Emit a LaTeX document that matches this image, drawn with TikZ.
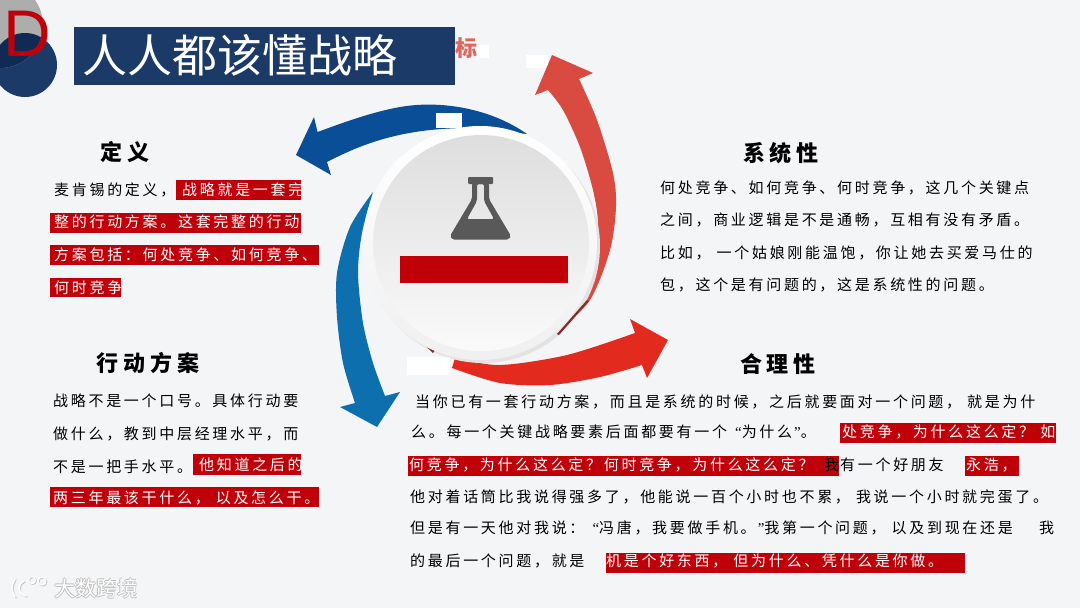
\documentclass[tikz,border=0pt]{standalone}
\usepackage{fontspec}
\setmainfont{Noto Sans CJK SC}
\newfontfamily\bodyfont[LetterSpace=18]{Noto Sans CJK SC}
\newfontfamily\headfont[LetterSpace=22]{Noto Sans CJK SC}
\newfontfamily\dfont{Liberation Sans}
\newfontfamily\quotefont{Liberation Serif}
\newcommand{\openq}{\hspace{8pt}{\quotefont “}}
\newcommand{\closeq}{\hspace{2pt}{\quotefont ”}}
\definecolor{pagebg}{HTML}{F4F5F7}
\definecolor{navy}{HTML}{1B3A68}
\definecolor{navydark}{HTML}{0F2A55}
\definecolor{boxred}{HTML}{C00008}
\definecolor{arrowblue}{HTML}{0A4E98}
\definecolor{arrowsky}{HTML}{0E6FAE}
\definecolor{arrowrose}{HTML}{D94A40}
\definecolor{arrowred}{HTML}{E22B1E}
\definecolor{flaskgrey}{HTML}{595959}
\tikzstyle{body} = [anchor=west, inner sep=0pt, font=\fontsize{15}{15}\bodyfont]
\tikzstyle{hot} = [body, text=white]
\tikzstyle{head} = [inner sep=0pt, font=\fontsize{22}{22}\headfont\bfseries]
\tikzstyle{redmark} = [fill=boxred]
\tikzstyle{patch} = [fill=white]
\tikzstyle{brandtxt} = [inner sep=0pt, font=\fontsize{21}{21}\selectfont]

\begin{document}
\begin{tikzpicture}[x=1pt,y=-1pt]
  \useasboundingbox (0,0) rectangle (1080,608);
  \fill [pagebg] (0,0) rectangle (1080,608);

  % badge
  \fill [navy] (25,65) circle (32);
  \fill [black!32] (0,25) circle (43);
  \begin{scope}
    \clip (25,65) circle (32);
    \fill [navydark] (0,25) circle (43);
  \end{scope}
  \node (badge) at (27.5,33.5) [inner sep=0pt, text=boxred, font=\fontsize{66}{66}\dfont] {D};

  % title
  \node (stub) at (466,48) [inner sep=0pt, text=arrowrose!85, font=\fontsize{22}{22}\selectfont\bfseries] {标};
  \fill [patch] (477,45) rectangle (489,58);
  \fill [patch] (526,55) rectangle (548,68);
  \fill [navy] (74,27) rectangle (455,85);
  \node (title) at (240,55) [inner sep=0pt, text=white, font=\fontsize{45}{45}\selectfont] {人人都该懂战略};

  % arrows
  \fill [arrowblue] (527,134) .. controls (490,108) and (440,100) .. (400,107)
    .. controls (372,112) and (345,122) .. (317.5,132) -- (314,117) -- (296,155)
    -- (331,175) -- (327,162) .. controls (360,145) and (400,128) .. (470,128) -- cycle;
  \fill [patch] (436,113) rectangle (462,128);
  \fill [arrowrose] plot [smooth] coordinates {(555,335) (590,300) (610,250) (616,207) (613,173) (597,120) (579,79)}
    -- (593,73) -- (552,55) -- (535,95) -- (548,90)
    -- plot [smooth] coordinates {(548,90) (563,110) (580,147) (593,190) (598,223) (595,263) (580,307) (555,335)} -- cycle;
  \fill [arrowred] plot [smooth] coordinates {(452,368) (500,383) (550,385) (600,377) (642,365)}
    -- (647,378) -- (668,340) -- (630,319) -- (635,333)
    -- plot [smooth] coordinates {(635,333) (567,355) (500,365) (455,358)} -- cycle;
  \fill [arrowsky] plot [smooth] coordinates {(373,192) (350,227) (337,273) (337,317) (343,363) (355,403)}
    -- (340,407) -- (377,427) -- (400,392) -- (385,396)
    -- plot [smooth] coordinates {(385,396) (373,363) (363,323) (358,273) (362,233) (373,192)} -- cycle;

  % center disc
  \fill [black!11] (483,246) circle (117);
  \fill [arrowrose!60!black] (557,334) -- (587,300) -- (589,301) -- (559,335) -- cycle;
  \fill [arrowrose!60!black] (415,336) -- (433,353) -- (438,346) -- cycle;
  \shade [top color=white, bottom color=black!6] (480,243) circle (117);
  \shade [top color=black!13, bottom color=black!2] (481,243) circle (108);
  \fill [patch] (407,357) rectangle (450,375);

  % flask
  \fill [flaskgrey, rounded corners=1pt] (468,177) rectangle (493,184);
  \fill [flaskgrey, even odd rule, rounded corners=2pt]
    (472,183) -- (489,183) -- (489,199) -- (511,236) -- (509,239.5) -- (452,239.5) -- (450,236) -- (472,199) -- cycle
    (477,184) -- (477,201) -- (467,219) -- (494,219) -- (484,201) -- (484,184) -- cycle;
  \fill [boxred] (400,256) rectangle (568,283);

  % marks
  \fill [redmark] (176,180) rectangle (301,200);
  \fill [redmark] (50,213) rectangle (301,233);
  \fill [redmark] (50,245) rectangle (319,265);
  \fill [redmark] (50,278) rectangle (121,297);
  \fill [redmark] (193,454) rectangle (301,475);
  \fill [redmark] (50,487) rectangle (319,507);
  \fill [redmark] (840,423) rectangle (1056,443);
  \fill [redmark] (408,456) rectangle (839,476);
  \fill [redmark] (965,456) rectangle (1019,476);
  \fill [redmark] (606,553) rectangle (965,573);

  % left top
  \node (defhead) at (125,152) [head] {定义};
  \node (def1) at (54,190) [body] {麦肯锡的定义，};
  \node (def1b) at (182,190) [hot] {战略就是一套完};
  \node (def2) at (54,222) [hot] {整的行动方案。这套完整的行动};
  \node (def3) at (54,255) [hot] {方案包括：何处竞争、如何竞争、};
  \node (def4) at (54,288) [hot] {何时竞争};

  % left bottom
  \node (acthead) at (148,363) [head] {行动方案};
  \node (act1) at (53,401) [body] {战略不是一个口号。具体行动要};
  \node (act2) at (53,434) [body] {做什么，教到中层经理水平，而};
  \node (act3) at (53,467) [body] {不是一把手水平。};
  \node (act3b) at (199,465) [hot] {他知道之后的};
  \node (act4) at (53,498) [hot] {两三年最该干什么， 以及怎么干。};

  % right top
  \node (syshead) at (781,153) [head] {系统性};
  \node (sys1) at (660,188) [body] {何处竞争、如何竞争、何时竞争，这几个关键点};
  \node (sys2) at (660,220) [body] {之间，商业逻辑是不是通畅，互相有没有矛盾。};
  \node (sys3) at (660,253) [body] {比如， 一个姑娘刚能温饱，你让她去买爱马仕的};
  \node (sys4) at (660,285) [body] {包，这个是有问题的，这是系统性的问题。};

  % right bottom
  \node (whyhead) at (778,364) [head] {合理性};
  \node (why1) at (415,402) [body] {当你已有一套行动方案，而且是系统的时候，之后就要面对一个问题， 就是为什};
  \node (why2) at (411,432) [body] {么。每一个关键战略要素后面都要有一个\openq 为什么\closeq 。};
  \node (why2b) at (842,432) [hot] {处竞争，为什么这么定？ 如};
  \node (why3) at (409,465) [hot] {何竞争，为什么这么定？何时竞争，为什么这么定？};
  \node (why3b) at (824,465) [body] {我};
  \node (why3c) at (840,465) [body] {有一个好朋友};
  \node (why3d) at (966,465) [hot] {永浩，};
  \node (why4) at (410,497) [body] {他对着话筒比我说得强多了，他能说一百个小时也不累， 我说一个小时就完蛋了。};
  \node (why5) at (410,528) [body] {但是有一天他对我说：\openq 冯唐，我要做手机。\closeq 我第一个问题， 以及到现在还是};
  \node (why5b) at (1039,528) [body] {我};
  \node (why6) at (410,561) [body] {的最后一个问题，就是};
  \node (why6b) at (606,561) [hot] {机是个好东西， 但为什么、凭什么是你做。};

  % watermark
  \foreach \col/\dx in {black!22/0.9, white/0} {
    \draw [\col, line width=1.6pt, line cap=round, xshift=\dx pt, yshift=-\dx pt]
      (15,579) .. controls (11,585) and (11,591) .. (15,597)
      (24,581) .. controls (17,584) and (17,593) .. (26,596);
    \draw [\col, line width=1.1pt, xshift=\dx pt, yshift=-\dx pt]
      (32,580) circle (3.5) (42,581) circle (4);
  }
  \foreach \n/\px/\py in {a/95/588, b/97/588, c/96/587, d/96/589}
    \node (brand\n) at (\px,\py) [brandtxt, text=black!25] {大数跨境};
  \node (brand) at (96,588) [brandtxt, text=white] {大数跨境};
\end{tikzpicture}
\end{document}
